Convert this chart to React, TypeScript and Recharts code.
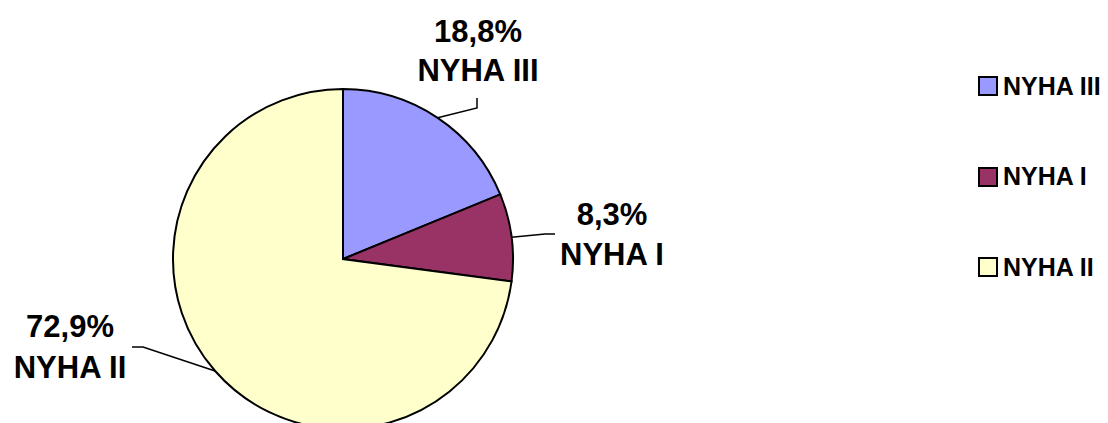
import { PieChart, Pie, Cell, Legend } from 'recharts';

const categories = ['NYHA III', 'NYHA I', 'NYHA II'];
const shares = [18.8, 8.3, 72.9];
const colors = ['#9999FF', '#993366', '#FFFFCC'];

const data = categories.map((name, i) => ({ name, value: shares[i] }));

// label placement relative to pie centre: text x, first/second baselines, elbow, end of leader
const labelLayout = [
    { tx: 135, b1: -217, b2: -178, ex: 134, ey: -151, fx: 134, fy: -161 },
    { tx: 269, b1: -34, b2: 6, ex: 202, ey: -25, fx: 212, fy: -25 },
    { tx: -273, b1: 78, b2: 119, ex: -200, ey: 88, fx: -211, fy: 88 },
];

const RAD = Math.PI / 180;
const FONT = '"Liberation Sans", Arial, sans-serif';

const renderLabel = (props: any) => {
    const { cx, cy, midAngle, outerRadius, index, name, value } = props;
    const l = labelLayout[index];
    const sx = cx + outerRadius * Math.cos(-midAngle * RAD);
    const sy = cy + outerRadius * Math.sin(-midAngle * RAD);
    const pct = Number(value).toFixed(1).replace('.', ',') + '%';
    return (
        <g>
            <polyline
                points={`${sx},${sy} ${cx + l.ex},${cy + l.ey} ${cx + l.fx},${cy + l.fy}`}
                fill="none"
                stroke="#000"
                strokeWidth={1.5}
            />
            <text x={cx + l.tx} y={cy + l.b1} textAnchor="middle" fontFamily={FONT} fontWeight="bold" fontSize={31} fill="#000">
                {pct}
            </text>
            <text x={cx + l.tx} y={cy + l.b2} textAnchor="middle" fontFamily={FONT} fontWeight="bold" fontSize={31} fill="#000">
                {name}
            </text>
        </g>
    );
};

const renderLegend = () => (
    <div style={{ fontFamily: FONT, fontWeight: 'bold', fontSize: 25 }}>
        {categories.map((c, i) => (
            <div key={c} style={{ height: 90.5, display: 'flex', alignItems: 'center' }}>
                <span
                    style={{
                        display: 'inline-block',
                        width: 16,
                        height: 16,
                        background: colors[i],
                        border: '2px solid #000',
                        marginRight: 5,
                    }}
                />
                <span>{c}</span>
            </div>
        ))}
    </div>
);

export default function App() {
    return (
        <div style={{ position: 'absolute', left: 0, top: 0, background: '#fff' }}>
            <PieChart width={1108} height={423} margin={{ top: 0, right: 0, bottom: 0, left: 0 }}>
                <Pie
                    data={data}
                    dataKey="value"
                    nameKey="name"
                    cx={343}
                    cy={259}
                    outerRadius={170}
                    startAngle={90}
                    endAngle={-270}
                    stroke="#000"
                    strokeWidth={2}
                    label={renderLabel}
                    labelLine={false}
                    isAnimationActive={false}
                >
                    {data.map((d, i) => (
                        <Cell key={d.name} fill={colors[i]} />
                    ))}
                </Pie>
                <Legend
                    content={renderLegend}
                    wrapperStyle={{ position: 'absolute', left: 978, top: 41, width: 130 }}
                />
            </PieChart>
        </div>
    );
}
